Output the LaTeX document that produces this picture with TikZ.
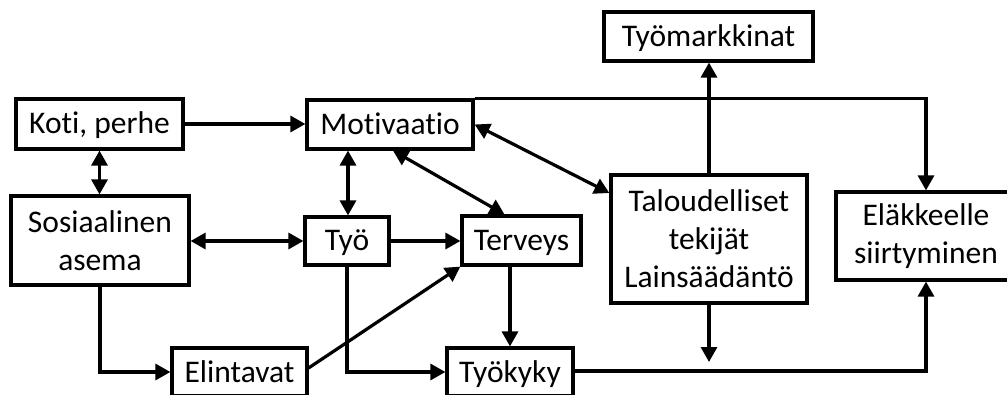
\documentclass[tikz,border=0pt]{standalone}
\usepackage{fontspec}
\setmainfont{Carlito}[Ligatures=NoCommon]
\usetikzlibrary{arrows.meta}
\tikzset{laatikko/.style={draw,line width=3.2pt,align=center,inner sep=0pt,font=\fontsize{31.5}{38}\selectfont},
yksi/.style={laatikko,text height=20pt,text depth=0pt},
nuoli/.style={line width=3.2pt,-{Triangle[length=15pt,width=16pt]}},
kaksi/.style={line width=3.2pt,{Triangle[length=15pt,width=16pt]}-{Triangle[length=15pt,width=16pt]}}}

\begin{document}
\begin{tikzpicture}[x=1pt,y=1pt]
\useasboundingbox (0,0) rectangle (1007,394);
\node[yksi,minimum width=167pt,minimum height=50pt] (koti) at (99.5,270) {Koti, perhe};
\node[laatikko,minimum width=178pt,minimum height=89pt] (sos) at (100,153.5) {Sosiaalinen\\asema};
\node[yksi,minimum width=166pt,minimum height=49pt] (motiv) at (390,269.5) {Motivaatio};
\node[yksi,minimum width=84pt,minimum height=48pt] (tyo) at (347,153) {Työ};
\node[yksi,minimum width=119pt,minimum height=49pt] (terv) at (521.5,153.5) {Terveys};
\node[yksi,minimum width=135pt,minimum height=48pt] (elin) at (239.5,22) {Elintavat};
\node[yksi,minimum width=126pt,minimum height=48pt] (kyky) at (510,22) {Työkyky};
\node[yksi,minimum width=209pt,minimum height=49pt] (tmark) at (708.5,357.5) {Työmarkkinat};
\node[laatikko,minimum width=196pt,minimum height=128pt] (talous) at (709,155) {Taloudelliset\\tekijät\\Lainsäädäntö};
\node[laatikko,minimum width=180pt,minimum height=88pt] (elake) at (926,158) {Eläkkeelle\\siirtyminen};
\coordinate (alas) at (709,32);

\draw[nuoli] (koti.east) -- (koti.east -| motiv.west);
\draw[kaksi] (koti.south) -- (koti.south |- sos.north);
\draw[kaksi] (sos.east |- tyo.west) -- (tyo.west);
\draw[kaksi] ([xshift=1pt]tyo.north |- motiv.south) -- ([xshift=1pt]tyo.north);
\draw[nuoli] (tyo.east) -- (tyo.east -| terv.west);
\draw[kaksi] ([xshift=3pt]motiv.south) -- ([xshift=-17pt]terv.north);
\draw[kaksi] (motiv.east) -- ([yshift=46pt]talous.west);
\draw[nuoli] (motiv.north east) -- (elake.north |- motiv.north east) -- (elake.north);
\draw[nuoli] (talous.north) -- (talous.north |- tmark.south);
\draw[nuoli] (talous.south) -- (alas);
\draw[nuoli] ([yshift=1pt]kyky.east) -- ([yshift=1pt]elake.south |- kyky.east) -- (elake.south);
\draw[nuoli] (kyky.north |- terv.south) -- (kyky.north);
\draw[nuoli] (tyo.south) -- (tyo.south |- kyky.west) -- (kyky.west);
\draw[nuoli] (sos.south) -- (sos.south |- elin.west) -- (elin.west);
\draw[nuoli] ([yshift=4pt]elin.east) -- (terv.south west);
\end{tikzpicture}
\end{document}
